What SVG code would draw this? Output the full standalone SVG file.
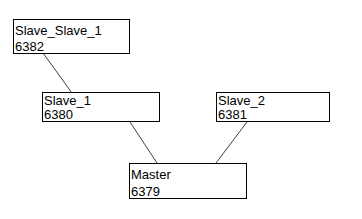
<svg xmlns="http://www.w3.org/2000/svg" width="362" height="219" viewBox="0 0 362 219">
<style>
.box{fill:#fff;stroke:#000;stroke-width:1}
.t{font-family:"Liberation Sans",Arial,sans-serif;font-size:13px;fill:#000}
.c{stroke:#404040;stroke-width:1;fill:none}
</style>
<rect width="362" height="219" fill="#fff"/>
<g id="connectors">
<line class="c" x1="43" y1="53" x2="72" y2="93"/>
<line class="c" x1="130" y1="122" x2="157" y2="163"/>
<line class="c" x1="247" y1="122" x2="216" y2="163"/>
</g>
<g id="slave_slave_1">
<rect class="box" x="13.5" y="19.5" width="116" height="34"/>
<text class="t" x="15" y="35">Slave_Slave_1</text>
<text class="t" x="15" y="51">6382</text>
</g>
<g id="slave_1">
<rect class="box" x="42.5" y="92.5" width="117" height="29"/>
<text class="t" x="44" y="105">Slave_1</text>
<text class="t" x="44" y="119">6380</text>
</g>
<g id="slave_2">
<rect class="box" x="216.5" y="92.5" width="113" height="29"/>
<text class="t" x="218" y="105">Slave_2</text>
<text class="t" x="218" y="119">6381</text>
</g>
<g id="master">
<rect class="box" x="129.5" y="163.5" width="117" height="35"/>
<text class="t" x="131" y="179">Master</text>
<text class="t" x="131" y="196">6379</text>
</g>
</svg>
